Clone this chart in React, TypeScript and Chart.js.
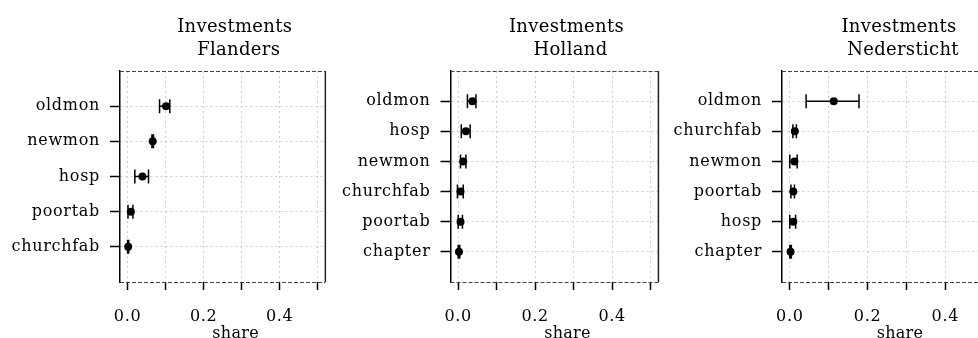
import React, { useEffect, useRef } from 'react';
import { Chart, registerables } from 'chart.js';

Chart.register(...registerables);

// ---------- data ----------
const TITLE_TOP = 'Investments';
const X_TITLE = 'share';
const X_MIN = -0.02;
const X_MAX = 0.52;
const X_TICKS = [0, 0.1, 0.2, 0.3, 0.4, 0.5];
const X_TICK_LABELS = ['0.0', '', '0.2', '', '0.4', ''];

const FLANDERS_NAME = 'Flanders';
const FLANDERS_CATS = ['oldmon', 'newmon', 'hosp', 'poortab', 'churchfab'];
const FLANDERS_SHARE = [0.101, 0.066, 0.039, 0.0085, 0.0015];
const FLANDERS_LO = [0.084, 0.064, 0.019, 0.001, 0.0];
const FLANDERS_HI = [0.111, 0.068, 0.055, 0.014, 0.003];

const HOLLAND_NAME = 'Holland';
const HOLLAND_CATS = ['oldmon', 'hosp', 'newmon', 'churchfab', 'poortab', 'chapter'];
const HOLLAND_SHARE = [0.037, 0.02, 0.013, 0.006, 0.006, 0.002];
const HOLLAND_LO = [0.024, 0.008, 0.006, -0.002, 0.0, 0.0];
const HOLLAND_HI = [0.046, 0.031, 0.02, 0.013, 0.011, 0.004];

const NEDERSTICHT_NAME = 'Nedersticht';
const NEDERSTICHT_CATS = ['oldmon', 'churchfab', 'newmon', 'poortab', 'hosp', 'chapter'];
const NEDERSTICHT_SHARE = [0.113, 0.013, 0.012, 0.009, 0.009, 0.002];
const NEDERSTICHT_LO = [0.042, 0.008, 0.0, 0.003, 0.0, 0.0];
const NEDERSTICHT_HI = [0.178, 0.017, 0.019, 0.012, 0.015, 0.004];

// ---------- layout / style ----------
const FONT = "'DejaVu Serif', 'Liberation Serif', serif";
const H = 338;
const AREA_TOP = 71;
const AREA_BOTTOM = 282;

type PanelDef = {
  name: string;
  cats: string[];
  share: number[];
  lo: number[];
  hi: number[];
  left: number;
  width: number;
  areaLeft: number;
  areaRight: number;
};

const PANELS: PanelDef[] = [
  { name: FLANDERS_NAME, cats: FLANDERS_CATS, share: FLANDERS_SHARE, lo: FLANDERS_LO, hi: FLANDERS_HI, left: 0, width: 335, areaLeft: 120, areaRight: 328 },
  { name: HOLLAND_NAME, cats: HOLLAND_CATS, share: HOLLAND_SHARE, lo: HOLLAND_LO, hi: HOLLAND_HI, left: 330, width: 338, areaLeft: 120.5, areaRight: 330.5 },
  { name: NEDERSTICHT_NAME, cats: NEDERSTICHT_CATS, share: NEDERSTICHT_SHARE, lo: NEDERSTICHT_LO, hi: NEDERSTICHT_HI, left: 660, width: 345, areaLeft: 122, areaRight: 332 },
];

function makePlugins(p: PanelDef) {
  const spacingPlugin = {
    id: 'spacing',
    beforeDraw(chart: any) {
      chart.ctx.letterSpacing = '0.7px';
    },
  };
  const framePlugin = {
    id: 'frame',
    afterDraw(chart: any) {
      const { ctx, chartArea: a } = chart;
      ctx.save();
      ctx.strokeStyle = '#444';
      ctx.lineWidth = 1.2;
      ctx.setLineDash([4, 2]);
      ctx.beginPath();
      ctx.moveTo(a.left, a.top + 0.5);
      ctx.lineTo(a.right, a.top + 0.5);
      ctx.moveTo(a.left, a.bottom + 0.5);
      ctx.lineTo(a.right, a.bottom + 0.5);
      ctx.stroke();
      ctx.setLineDash([]);
      ctx.strokeStyle = '#222';
      ctx.lineWidth = 1.5;
      ctx.beginPath();
      ctx.moveTo(a.right, a.top);
      ctx.lineTo(a.right, a.bottom);
      ctx.stroke();
      ctx.restore();
    },
  };
  const errPlugin = {
    id: 'errbars',
    beforeDatasetsDraw(chart: any) {
      const { ctx } = chart;
      const xs = chart.scales.x;
      const ys = chart.scales.y;
      ctx.save();
      ctx.strokeStyle = '#000';
      ctx.lineWidth = 1.5;
      p.cats.forEach((_, i) => {
        const y = ys.getPixelForValue(i + 1);
        const x1 = xs.getPixelForValue(p.lo[i]);
        const x2 = xs.getPixelForValue(p.hi[i]);
        ctx.beginPath();
        ctx.moveTo(x1, y);
        ctx.lineTo(x2, y);
        ctx.moveTo(x1, y - 7);
        ctx.lineTo(x1, y + 7);
        ctx.moveTo(x2, y - 7);
        ctx.lineTo(x2, y + 7);
        ctx.stroke();
      });
      ctx.restore();
    },
  };
  const textPlugin = {
    id: 'texts',
    afterDraw(chart: any) {
      const { ctx, chartArea: a } = chart;
      const cx = (a.left + a.right) / 2;
      ctx.save();
      ctx.letterSpacing = '0.3px';
      ctx.fillStyle = '#000';
      ctx.textAlign = 'center';
      ctx.textBaseline = 'alphabetic';
      ctx.font = `18px ${FONT}`;
      ctx.fillText(TITLE_TOP, cx + 12, 31.5);
      ctx.fillText(p.name, cx + 16, 55);
      ctx.font = `16px ${FONT}`;
      ctx.fillText(X_TITLE, cx + 13, 337.5);
      ctx.restore();
    },
  };
  return [spacingPlugin, errPlugin, framePlugin, textPlugin];
}

function Panel({ p }: { p: PanelDef }) {
  const ref = useRef<HTMLCanvasElement | null>(null);
  useEffect(() => {
    if (!ref.current) return;
    const n = p.cats.length;
    const tickFont = { family: FONT, size: 16 };
    const chart = new Chart(ref.current, {
      type: 'scatter',
      data: {
        datasets: [
          {
            data: p.cats.map((_, i) => ({ x: p.share[i], y: i + 1 })),
            pointRadius: 4,
            pointHoverRadius: 4,
            pointBackgroundColor: '#000',
            pointBorderColor: '#000',
            pointBorderWidth: 0,
            showLine: false,
          },
        ],
      },
      options: {
        animation: false,
        responsive: false,
        events: [],
        layout: { padding: { left: 0, top: AREA_TOP, right: p.width - p.areaRight, bottom: 0 } },
        plugins: { legend: { display: false }, tooltip: { enabled: false }, title: { display: false } },
        scales: {
          x: {
            type: 'linear',
            min: X_MIN,
            max: X_MAX,
            afterBuildTicks: (s: any) => {
              s.ticks = X_TICKS.map((v) => ({ value: v }));
            },
            afterFit: (s: any) => {
              s.height = H - AREA_BOTTOM;
            },
            ticks: {
              callback: (_v: any, i: number) => X_TICK_LABELS[i],
              color: '#000',
              font: tickFont,
              padding: 17,
              autoSkip: false,
              maxRotation: 0,
              minRotation: 0,
            },
            grid: { color: '#cccccc', lineWidth: 1, tickColor: '#000', tickLength: 8, tickWidth: 1.5, drawTicks: true },
            border: { display: false, dash: [2, 3] },
          },
          y: {
            type: 'linear',
            reverse: true,
            min: 0,
            max: n + 1,
            afterBuildTicks: (s: any) => {
              s.ticks = p.cats.map((_, i) => ({ value: i + 1 }));
            },
            afterFit: (s: any) => {
              s.width = p.areaLeft;
            },
            ticks: {
              callback: (v: any) => p.cats[Math.round(v) - 1] ?? '',
              color: '#000',
              font: tickFont,
              padding: 10,
              autoSkip: false,
            },
            grid: { color: '#cccccc', lineWidth: 1, tickColor: '#000', tickLength: 10, tickWidth: 1.5, drawTicks: true },
            border: { display: true, color: '#000', width: 1.5, dash: [2, 3] },
          },
        },
      } as any,
      plugins: makePlugins(p) as any,
    });
    return () => chart.destroy();
  }, [p]);
  return (
    <canvas
      ref={ref}
      width={p.width}
      height={H}
      style={{ position: 'absolute', left: p.left, top: 0, width: p.width, height: H }}
    />
  );
}

export default function App() {
  return (
    <div
      style={{
        position: 'fixed',
        left: 0,
        top: 0,
        width: 978,
        height: H,
        overflow: 'hidden',
        background: '#fff',
      }}
    >
      {PANELS.map((p) => (
        <Panel key={p.name} p={p} />
      ))}
    </div>
  );
}
